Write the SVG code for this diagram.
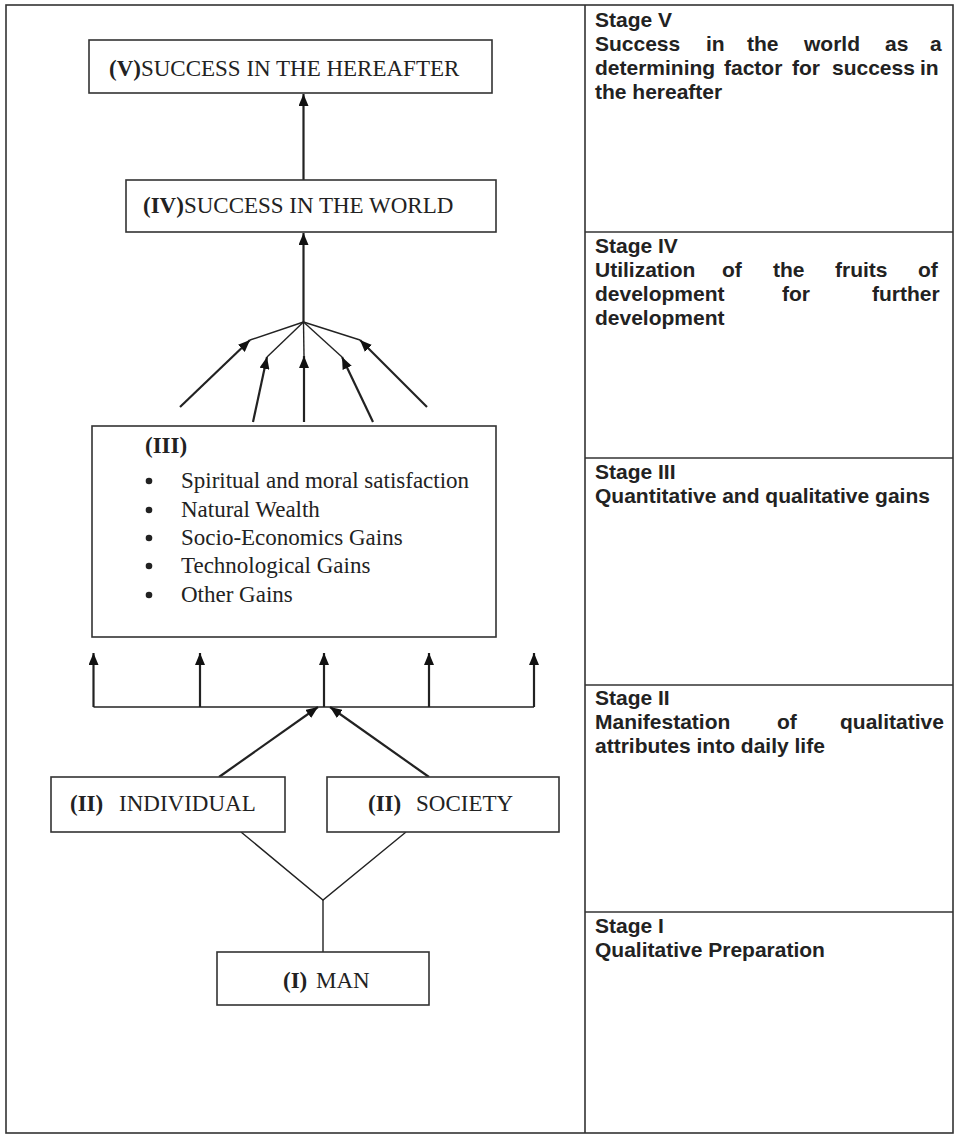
<svg xmlns="http://www.w3.org/2000/svg" width="956" height="1135" viewBox="0 0 956 1135">
<style>
.frame{fill:none;stroke:#333;stroke-width:1.6}
.box{fill:#fff;stroke:#333;stroke-width:1.6}
.ser{font-family:"Liberation Serif","Times New Roman",serif;font-size:23px;fill:#222}
.b{font-weight:bold}
.side{font-family:"Liberation Sans",Arial,sans-serif;font-size:21px;font-weight:bold;fill:#222}
.arr{stroke:#222;stroke-width:2.2;fill:none}
.thin{stroke:#222;stroke-width:1.4;fill:none}
</style>
<defs>
<marker id="ah" markerUnits="userSpaceOnUse" markerWidth="12" markerHeight="10" refX="12" refY="5" orient="auto">
<path d="M0,0 L12,5 L0,10 z" fill="#111"/>
</marker>
</defs>
<rect width="956" height="1135" fill="#fff"/>
<g id="frame">
<rect class="frame" x="6" y="5" width="947" height="1128"/>
<line class="frame" x1="585" y1="5" x2="585" y2="1133"/>
<line class="frame" x1="585" y1="232" x2="953" y2="232"/>
<line class="frame" x1="585" y1="458" x2="953" y2="458"/>
<line class="frame" x1="585" y1="685" x2="953" y2="685"/>
<line class="frame" x1="585" y1="912" x2="953" y2="912"/>
</g>
<g id="connectors">
<line class="arr" x1="303.5" y1="180" x2="303.5" y2="94" marker-end="url(#ah)"/>
<line class="arr" x1="303.5" y1="322" x2="303.5" y2="233" marker-end="url(#ah)"/>
<line class="thin" x1="303.5" y1="322" x2="250" y2="340"/>
<line class="thin" x1="303.5" y1="322" x2="267" y2="357"/>
<line class="thin" x1="303.5" y1="322" x2="304" y2="356"/>
<line class="thin" x1="303.5" y1="322" x2="342" y2="357"/>
<line class="thin" x1="303.5" y1="322" x2="360" y2="340"/>
<line class="arr" x1="180" y1="407" x2="250" y2="340" marker-end="url(#ah)"/>
<line class="arr" x1="253" y1="422" x2="267" y2="357" marker-end="url(#ah)"/>
<line class="arr" x1="304" y1="422" x2="304" y2="356" marker-end="url(#ah)"/>
<line class="arr" x1="373" y1="422" x2="342" y2="357" marker-end="url(#ah)"/>
<line class="arr" x1="427" y1="407" x2="360" y2="340" marker-end="url(#ah)"/>
<line class="thin" x1="93.5" y1="707" x2="534" y2="707"/>
<line class="arr" x1="93.5" y1="707" x2="93.5" y2="653" marker-end="url(#ah)"/>
<line class="arr" x1="200" y1="707" x2="200" y2="653" marker-end="url(#ah)"/>
<line class="arr" x1="324" y1="707" x2="324" y2="653" marker-end="url(#ah)"/>
<line class="arr" x1="429" y1="707" x2="429" y2="653" marker-end="url(#ah)"/>
<line class="arr" x1="534" y1="707" x2="534" y2="653" marker-end="url(#ah)"/>
<line class="arr" x1="219" y1="777" x2="318" y2="707" marker-end="url(#ah)"/>
<line class="arr" x1="429" y1="777" x2="330" y2="707" marker-end="url(#ah)"/>
<polyline class="thin" points="241,832 323,900 406,832"/>
<line class="thin" x1="323" y1="900" x2="323" y2="952"/>
</g>
<g id="node-v">
<rect class="box" x="89" y="40" width="403" height="53"/>
<text class="ser" x="109" y="76"><tspan class="b">(V)</tspan>SUCCESS IN THE HEREAFTER</text>
</g>
<g id="node-iv">
<rect class="box" x="126" y="180" width="370" height="52"/>
<text class="ser" x="143" y="213"><tspan class="b">(IV)</tspan>SUCCESS IN THE WORLD</text>
</g>
<g id="node-iii">
<rect class="box" x="92" y="426" width="404" height="211"/>
<text class="ser b" x="145" y="453">(III)</text>
<circle cx="149" cy="481" r="3.3" fill="#222"/>
<circle cx="149" cy="510" r="3.3" fill="#222"/>
<circle cx="149" cy="538" r="3.3" fill="#222"/>
<circle cx="149" cy="566" r="3.3" fill="#222"/>
<circle cx="149" cy="595" r="3.3" fill="#222"/>
<text class="ser" x="181" y="488">Spiritual and moral satisfaction</text>
<text class="ser" x="181" y="517">Natural Wealth</text>
<text class="ser" x="181" y="545">Socio-Economics Gains</text>
<text class="ser" x="181" y="573">Technological Gains</text>
<text class="ser" x="181" y="602">Other Gains</text>
</g>
<g id="node-individual">
<rect class="box" x="51" y="777" width="234" height="55"/>
<text class="ser" y="811"><tspan class="b" x="70">(II)</tspan><tspan x="119">INDIVIDUAL</tspan></text>
</g>
<g id="node-society">
<rect class="box" x="327" y="777" width="232" height="55"/>
<text class="ser" y="811"><tspan class="b" x="368">(II)</tspan><tspan x="416">SOCIETY</tspan></text>
</g>
<g id="node-man">
<rect class="box" x="217" y="952" width="212" height="53"/>
<text class="ser" y="988"><tspan class="b" x="283">(I)</tspan><tspan x="316">MAN</tspan></text>
</g>
<g id="stage-v">
<text class="side" x="595" y="27">Stage V</text>
<text class="side" y="51"><tspan x="595">Success</tspan><tspan x="706">in</tspan><tspan x="747">the</tspan><tspan x="804">world</tspan><tspan x="885">as</tspan><tspan x="930">a</tspan></text>
<text class="side" y="75"><tspan x="595">determining</tspan><tspan x="724">factor</tspan><tspan x="792">for</tspan><tspan x="832">success</tspan><tspan x="920">in</tspan></text>
<text class="side" x="595" y="99">the hereafter</text>
</g>
<g id="stage-iv">
<text class="side" x="595" y="253">Stage IV</text>
<text class="side" y="277"><tspan x="595">Utilization</tspan><tspan x="722">of</tspan><tspan x="773">the</tspan><tspan x="835">fruits</tspan><tspan x="918">of</tspan></text>
<text class="side" y="301"><tspan x="595">development</tspan><tspan x="782">for</tspan><tspan x="872">further</tspan></text>
<text class="side" x="595" y="325">development</text>
</g>
<g id="stage-iii">
<text class="side" x="595" y="479">Stage III</text>
<text class="side" x="595" y="503">Quantitative and qualitative gains</text>
</g>
<g id="stage-ii">
<text class="side" x="595" y="705">Stage II</text>
<text class="side" y="729"><tspan x="595">Manifestation</tspan><tspan x="777">of</tspan><tspan x="840">qualitative</tspan></text>
<text class="side" x="595" y="753">attributes into daily life</text>
</g>
<g id="stage-i">
<text class="side" x="595" y="933">Stage I</text>
<text class="side" x="595" y="957">Qualitative Preparation</text>
</g>
</svg>
